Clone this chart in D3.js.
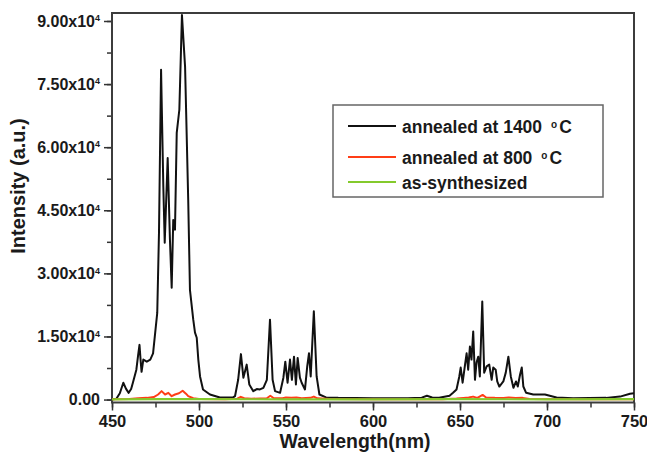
<!DOCTYPE html>
<html>
<head>
<meta charset="utf-8">
<script src="https://cdn.jsdelivr.net/npm/d3@7"></script>
<style>
  body { margin: 0; background: #fff; }
  svg text { font-family: "Liberation Sans", Arial, sans-serif; font-weight: bold; fill: #1a1a1a; }
</style>
</head>
<body>
<div id="chart"></div>
<script>
// annealed at 1400 C
const wl1400 = [450, 452.5, 454.5, 456.5, 458, 459.5, 461, 462, 464, 465, 465.8, 466.5, 467, 468, 470, 472, 473.6,
  476, 477, 478.2, 479.5, 480.3, 482, 483.3, 484.3, 485.2, 486.2, 487.2, 488.7, 490.2, 492, 493.8, 494.8, 496.7,
  497.7, 498.7, 499.6, 500.6, 502.3, 506.3, 512, 519.6, 520.7, 522.5, 524.1, 525.5, 527.4, 528.9, 531.2, 533.2,
  535, 537, 539, 540.8, 542.3, 543.7, 546.6, 548.5, 549.6, 550.9, 552.3, 553.4, 554.6, 555.7, 556.7, 558, 559,
  560.9, 562.2, 563.2, 564.2, 566, 567.6, 569.2, 573, 580, 600, 620, 628, 631, 634, 638, 644, 646, 648, 649.6,
  650.4, 651.5, 652.9, 653.8, 654.7, 655.7, 656.6, 657.6, 658.6, 659.5, 660.5, 661.4, 662.8, 663.9, 665.3, 666.8,
  668.2, 669.1, 670.5, 671.4, 672.6, 674.9, 676.3, 677.8, 679.2, 680.7, 682.2, 683.2, 684.5, 685.5, 686.4, 688,
  692.1, 698.8, 705.5, 715, 734, 742, 747.7, 750];
const int1400 = [0, 200, 1500, 4000, 2600, 1600, 2500, 4000, 7100, 10500, 13000, 9000, 6600, 9500, 9000, 9500, 11000,
  20600, 39600, 78400, 50600, 37300, 57400, 38000, 26600, 42700, 40400, 63400, 68900, 91400, 79100, 47500, 26100, 19000,
  15900, 14700, 9500, 5500, 2400, 1200, 500, 500, 800, 4700, 10800, 5200, 8300, 3600, 2000, 2500,
  2400, 2800, 4700, 19000, 4700, 2000, 1600, 5200, 9000, 4000, 9500, 4700, 10200, 3600, 9900, 5200, 4000,
  2400, 7900, 11000, 5500, 21000, 5500, 1200, 500, 400, 300, 300, 450, 900, 500, 450, 900, 1600, 2400, 5500,
  7600, 4000, 8300, 11000, 7100, 12600, 9500, 16200, 4700, 8800, 10200, 5500, 23300, 6400, 7900, 8300,
  4700, 7600, 7100, 4300, 3100, 4300, 6400, 10200, 5500, 2800, 4300, 3100, 5900, 7600, 3100, 1600,
  1200, 1200, 500, 300, 400, 700, 1400, 1500];

// annealed at 800 C
const wl800 = [450, 460, 465, 470, 474, 476.5, 478.5, 480.5, 482.4, 484.3, 486.2, 488.5, 490.6, 492.5, 493.8, 496.7,
  500, 515, 522, 524, 526, 530, 539, 541, 543, 548, 550, 553, 556, 559, 564, 566, 568, 575, 600, 640, 648, 652, 655,
  657.5, 660, 663, 665, 670, 675, 678, 682, 686, 690, 720, 750];
const int800 = [100, 150, 300, 400, 600, 1200, 2000, 1200, 1600, 800, 1200, 1500, 2100, 1400, 800, 300,
  150, 100, 200, 650, 300, 200, 300, 900, 300, 300, 500, 450, 500, 300, 400, 700, 300, 150, 100, 100, 250, 400, 500,
  700, 400, 1100, 500, 400, 350, 500, 350, 400, 150, 100, 100];

// as-synthesized
const wlAs = [450, 480, 500, 550, 600, 650, 700, 750];
const intAs = [50, 100, 80, 60, 60, 80, 60, 80];

const xTicks = [450, 500, 550, 600, 650, 700, 750];
const yTicks = [0, 15000, 30000, 45000, 60000, 75000, 90000];
const legendLabels = [["annealed at 1400", "C"], ["annealed at 800", "C"], ["as-synthesized", null]];
const colors = ["#111111", "#ff3d17", "#84ca2c"];

const W = 647, H = 456;
const margin = { left: 112, top: 13, right: 13, bottom: 53.5 };
const width = W - margin.left - margin.right;
const height = H - margin.top - margin.bottom;

const svg = d3.select("#chart").append("svg")
  .attr("width", W).attr("height", H);
const g = svg.append("g").attr("transform", `translate(${margin.left},${margin.top})`);

const x = d3.scaleLinear().domain([450, 750]).range([0, width]);
const y = d3.scaleLinear().domain([-700, 91900]).range([height, 0]);

// minor ticks
g.append("g")
  .attr("transform", `translate(0,${height})`)
  .call(d3.axisBottom(x).tickValues(d3.range(450, 751, 25)).tickSize(5).tickFormat(""))
  .call(s => s.select(".domain").remove())
  .call(s => s.selectAll(".tick line").attr("stroke", "#333").attr("stroke-width", 1.5));
g.append("g")
  .call(d3.axisLeft(y).tickValues(d3.range(0, 90001, 7500)).tickSize(5).tickFormat(""))
  .call(s => s.select(".domain").remove())
  .call(s => s.selectAll(".tick line").attr("stroke", "#333").attr("stroke-width", 1.5));

// major ticks
g.append("g")
  .attr("transform", `translate(0,${height})`)
  .call(d3.axisBottom(x).tickValues(xTicks).tickSize(8).tickPadding(5).tickFormat(d3.format("d")))
  .call(s => s.select(".domain").remove())
  .call(s => s.selectAll(".tick line").attr("stroke", "#333").attr("stroke-width", 1.5))
  .call(s => s.selectAll(".tick text").style("font-size", "16.5px").attr("fill", "#1a1a1a"));

const yAx = g.append("g")
  .call(d3.axisLeft(y).tickValues(yTicks).tickSize(8).tickPadding(4)
    .tickFormat(d => d === 0 ? "0.00" : (d / 1e4).toFixed(2) + "x10"))
  .call(s => s.select(".domain").remove())
  .call(s => s.selectAll(".tick line").attr("stroke", "#333").attr("stroke-width", 1.5))
  .call(s => s.selectAll(".tick text").style("font-size", "16px").attr("fill", "#1a1a1a"));
yAx.selectAll(".tick text").filter(d => d !== 0)
  .append("tspan").attr("dy", "-0.6em").style("font-size", "9px").text("4");

// frame
g.append("rect")
  .attr("width", width).attr("height", height)
  .attr("fill", "none").attr("stroke", "#3c3c3c").attr("stroke-width", 2);

const line = d3.line().x(d => x(d[0])).y(d => y(d[1]));
const series = [
  d3.zip(wl1400, int1400),
  d3.zip(wl800, int800),
  d3.zip(wlAs, intAs)
];

g.append("defs").append("clipPath").attr("id", "clip")
  .append("rect").attr("width", width).attr("height", height - 1);

g.append("g").attr("clip-path", "url(#clip)")
  .selectAll("path")
  .data(series)
  .join("path")
  .attr("d", line)
  .attr("fill", "none")
  .attr("stroke", (d, i) => colors[i])
  .attr("stroke-width", (d, i) => i === 2 ? 2.2 : 2)
  .attr("stroke-linejoin", "round");

// legend
const legend = svg.append("g").attr("transform", "translate(333,105)");
legend.append("rect")
  .attr("width", 270).attr("height", 92)
  .attr("fill", "#fff").attr("stroke", "#666").attr("stroke-width", 1.5);
const rowY = [21, 52, 77];
legendLabels.forEach((lab, i) => {
  const row = legend.append("g").attr("transform", `translate(0,${rowY[i]})`);
  row.append("line")
    .attr("x1", 15).attr("x2", 63).attr("y1", 0).attr("y2", 0)
    .attr("stroke", colors[i]).attr("stroke-width", 1.8);
  const t = row.append("text")
    .attr("x", 69).attr("y", 7)
    .style("font-size", "17.5px")
    .text(lab[0]);
  if (lab[1]) {
    t.append("tspan").attr("dx", 9).attr("dy", "-0.55em").style("font-size", "10px").text("o");
    t.append("tspan").attr("dx", 2).attr("dy", "0.31em").text(lab[1]);
  }
});

// axis titles
svg.append("text")
  .attr("x", 355).attr("y", 448)
  .attr("text-anchor", "middle")
  .style("font-size", "19.5px")
  .text("Wavelength(nm)");
svg.append("text")
  .attr("transform", "translate(25,186) rotate(-90)")
  .attr("text-anchor", "middle")
  .style("font-size", "20px")
  .text("Intensity (a.u.)");
</script>
</body>
</html>
